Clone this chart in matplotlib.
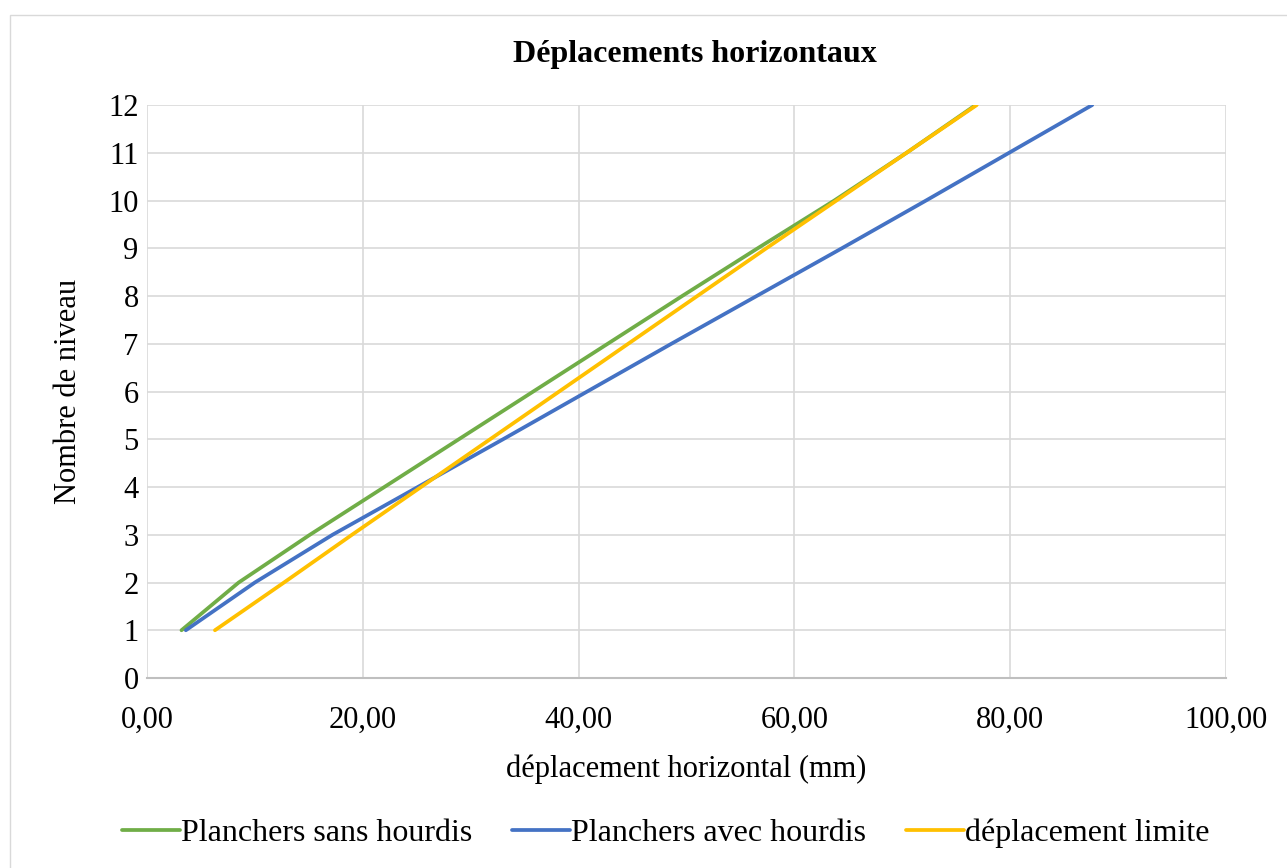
import matplotlib
matplotlib.use('Agg')
import matplotlib.pyplot as plt
from matplotlib.patches import Rectangle
from matplotlib.ticker import FuncFormatter

plt.rcParams['font.family'] = ['Liberation Serif', 'DejaVu Serif']

# niveaux et déplacements (mm)
niveaux = [1, 2, 3, 4, 5, 6, 7, 8, 9, 10, 11, 12]
sans_hourdis = [3.2, 8.5, 15.1, 22.0, 28.9, 35.8, 42.7, 49.6, 56.6, 63.7, 70.4, 76.8]
avec_hourdis = [3.6, 10.0, 17.2, 25.1, 33.0, 40.8, 48.6, 56.5, 64.4, 72.2, 79.9, 87.6]
limite = [6.3, 12.7, 19.0, 25.4, 31.8, 38.2, 44.6, 51.0, 57.4, 63.9, 70.4, 76.9]

fig = plt.figure(figsize=(12.87, 8.68), dpi=100)
ax = fig.add_axes([0.1142, 0.2189, 0.8384, 0.6601])

ax.plot(sans_hourdis, niveaux, color='#70AD47', lw=2.7, label='Planchers sans hourdis',
        solid_capstyle='round', solid_joinstyle='round')
ax.plot(avec_hourdis, niveaux, color='#4472C4', lw=2.7, label='Planchers avec hourdis',
        solid_capstyle='round', solid_joinstyle='round')
ax.plot(limite, niveaux, color='#FFC000', lw=2.7, label='déplacement limite',
        solid_capstyle='round', solid_joinstyle='round')

ax.set_xlim(0, 100)
ax.set_ylim(0, 12)
ax.set_xticks(range(0, 101, 20))
ax.set_yticks(range(0, 13))
ax.xaxis.set_major_formatter(FuncFormatter(lambda v, p: ('%.2f' % v).replace('.', ',')))
ax.grid(True, color='#d9d9d9', lw=1.2)
ax.set_axisbelow(True)
for s in ('top', 'right', 'left'):
    ax.spines[s].set_visible(False)
ax.spines['bottom'].set_color('#bfbfbf')
ax.spines['bottom'].set_linewidth(1.5)
ax.tick_params(length=0, labelsize=22, pad=6)
ax.tick_params(axis='x', pad=20)

ax.set_xlabel('déplacement horizontal (mm)', fontsize=22, labelpad=14)
ax.set_ylabel('Nombre de niveau', fontsize=22, labelpad=18)
fig.text(0.54, 0.937, 'Déplacements horizontaux', ha='center', va='center',
         fontsize=23, fontweight='bold')

fig.legend(loc='center', bbox_to_anchor=(0.5175, 0.04), ncol=3, frameon=False,
           fontsize=23, handlelength=1.8, handletextpad=0.05, columnspacing=1.25)

fig.patches.append(Rectangle((10 / 1287, -0.01), 1.1, 0.996 - 12 / 868 + 0.01,
                             transform=fig.transFigure, fill=False,
                             edgecolor='#d9d9d9', lw=1.0))

fig.savefig('out.png', dpi=100)
